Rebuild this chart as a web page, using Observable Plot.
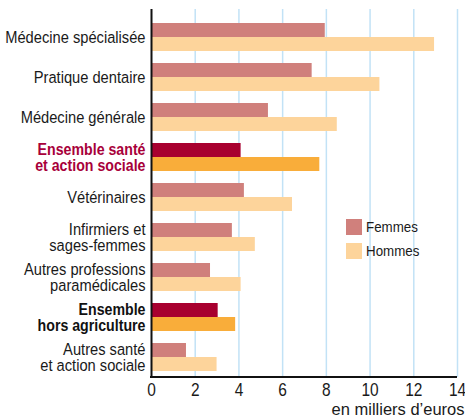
<!DOCTYPE html>
<html>
<head>
<meta charset="utf-8">
<script src="https://cdn.jsdelivr.net/npm/d3@7"></script>
<script src="https://cdn.jsdelivr.net/npm/@observablehq/plot@0.6"></script>
<style>
  html, body { margin: 0; padding: 0; background: #fff; }
  #wrap { position: relative; width: 465px; height: 420px; font-family: 'Liberation Sans', Arial, sans-serif; }
  #legend { position: absolute; left: 346px; top: 219px; font-size: 15.5px; color: #1a1a1a; }
  .row { display: flex; align-items: center; height: 16px; margin-bottom: 8px; }
  .sw { width: 16px; height: 16px; margin-right: 4px; flex: none; }
  .row span { display: inline-block; transform: scaleX(0.86); transform-origin: left center; }
</style>
</head>
<body>
<div id="wrap"></div>
<script>
const categories = [
  "Médecine spécialisée",
  "Pratique dentaire",
  "Médecine générale",
  "Ensemble santé\net action sociale",
  "Vétérinaires",
  "Infirmiers et\nsages-femmes",
  "Autres professions\nparamédicales",
  "Ensemble\nhors agriculture",
  "Autres santé\net action sociale"
];
const femmes = [7.95, 7.35, 5.35, 4.1, 4.25, 3.7, 2.7, 3.05, 1.6];
const hommes = [12.95, 10.45, 8.5, 7.7, 6.45, 4.75, 4.1, 3.85, 3.0];
const ensembles = ["Ensemble santé\net action sociale", "Ensemble\nhors agriculture"];
const sexes = ["Femmes", "Hommes"];
const xTicks = [0, 2, 4, 6, 8, 10, 12, 14];
const xLabel = "en milliers d’euros";

const colorDomain = ["Femmes", "Hommes", "E-Femmes", "E-Hommes"];
const colorRange = ["#D0807C", "#FDD49B", "#A8002F", "#F9AD3A"];

const rows = categories.flatMap((c, i) => [
  {cat: c, sexe: sexes[0], v: femmes[i]},
  {cat: c, sexe: sexes[1], v: hommes[i]}
]);
const key = d => (ensembles.includes(d.cat) ? "E-" : "") + d.sexe;

const bottomLine = (index, scales, values, dims) => {
  const y = dims.height - dims.marginBottom;
  return d3.create("svg:line")
    .attr("x1", dims.marginLeft - 1).attr("x2", dims.width - dims.marginRight)
    .attr("y1", y).attr("y2", y)
    .attr("stroke", "#111").attr("stroke-width", 2).node();
};

const labelOpts = {y: d => d, text: d => d, frameAnchor: "left", dx: -6, textAnchor: "end", fontSize: 16.5, lineHeight: 1};

const chart = Plot.plot({
  width: 465,
  height: 420,
  marginLeft: 151,
  marginRight: 8,
  marginTop: 9,
  marginBottom: 43,
  style: {fontFamily: "'Liberation Sans', Arial, sans-serif", background: "white", color: "#1a1a1a"},
  x: {domain: [0, 14]},
  y: {domain: categories, paddingInner: 0.3, paddingOuter: 0.227, align: 0.71, axis: null},
  color: {domain: colorDomain, range: colorRange},
  marks: [
    Plot.ruleX(xTicks.filter(t => t > 0), {stroke: "#C2E2F6", strokeWidth: 1.5}),
    Plot.barX(rows.filter(d => d.sexe === sexes[0]), {x: "v", y: "cat", fill: key, insetBottom: 14}),
    Plot.barX(rows.filter(d => d.sexe === sexes[1]), {x: "v", y: "cat", fill: key, insetTop: 14}),
    Plot.ruleX([0], {stroke: "#111", strokeWidth: 2}),
    bottomLine,
    Plot.axisX({ticks: xTicks, tickSize: 0, tickPadding: 6, fontSize: 18, label: null, tickFormat: d => d, className: "cond86"}),
    Plot.text(categories.filter(c => !ensembles.includes(c)), {...labelOpts, fill: "#1a1a1a", className: "cond89"}),
    Plot.text([ensembles[0]], {...labelOpts, fontWeight: "bold", fill: "#A8003A", className: "cond86"}),
    Plot.text([ensembles[1]], {...labelOpts, fontWeight: "bold", fill: "#111", className: "cond86"}),
    Plot.text([xLabel], {frameAnchor: "bottom-right", dx: 7, dy: 37, textAnchor: "end", fontSize: 16.5, fill: "#1a1a1a"})
  ]
});

// condense the label glyphs horizontally (reference uses a condensed face)
function condense(cls, S) {
  d3.select(chart).selectAll(`.${cls} text`).each(function() {
    const tr = this.getAttribute("transform");
    const x = +this.getAttribute("x") || 0;
    if (tr && !x) {
      this.setAttribute("transform", tr + ` scale(${S},1)`);
    } else {
      this.setAttribute("transform", `translate(${x},0) scale(${S},1) translate(${-x},0) ` + (tr || ""));
    }
  });
}
condense("cond86", 0.86);
condense("cond89", 0.89);

const wrap = document.getElementById("wrap");
wrap.appendChild(chart);
const legend = document.createElement("div");
legend.id = "legend";
sexes.forEach((s, i) => {
  const row = document.createElement("div");
  row.className = "row";
  const sw = document.createElement("div");
  sw.className = "sw";
  sw.style.background = colorRange[i];
  const t = document.createElement("span");
  t.textContent = s;
  row.appendChild(sw); row.appendChild(t);
  legend.appendChild(row);
});
wrap.appendChild(legend);
</script>
</body>
</html>
